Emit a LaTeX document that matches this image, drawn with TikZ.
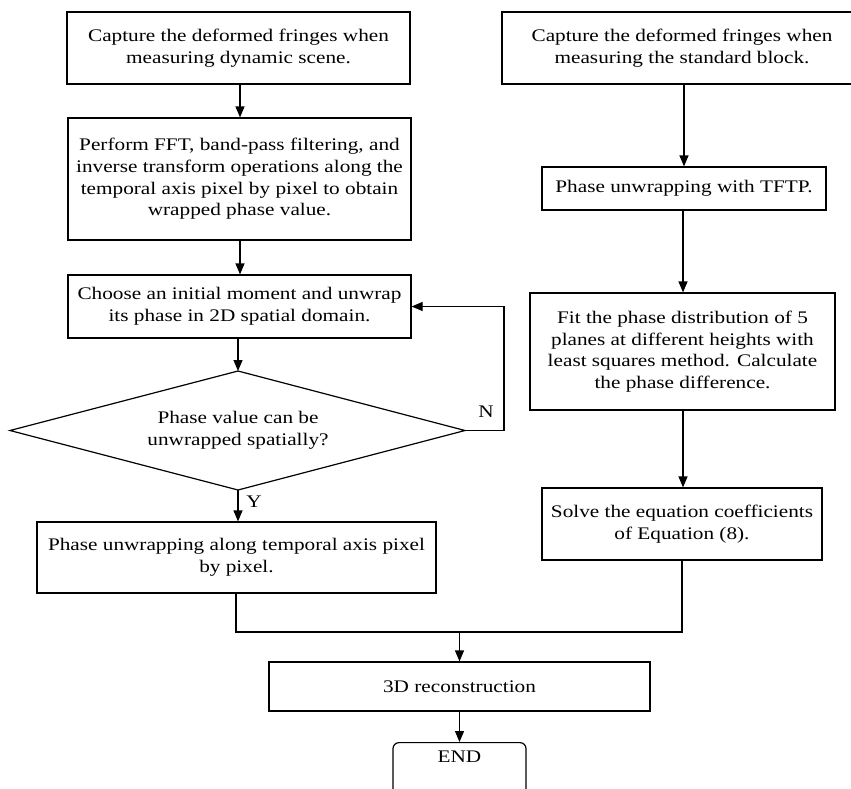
\documentclass[tikz,border=0pt]{standalone}
\usepackage{fontspec}
\setmainfont[FakeStretch=1.2]{Liberation Serif}
\usetikzlibrary{arrows.meta,calc}
\begin{document}
\begin{tikzpicture}[x=1pt,y=-1pt,
  every node/.style={font=\fontsize{17.7}{21.7}\selectfont},
  box/.style={draw,line width=1.2pt,rectangle,align=center,inner sep=0pt},
  endbox/.style={draw,line width=1.2pt,rounded corners=6pt,align=center,inner xsep=0pt,inner ysep=8pt},
  conn/.style={line width=1.2pt,-{Triangle[width=9pt,length=11pt]}},
  plain/.style={line width=1.2pt},
  lbl/.style={inner sep=0pt}]
\useasboundingbox (0,0) rectangle (851,788);
\clip (0,0) rectangle (851,788);
% left column
\node[box,minimum width=343,minimum height=72] (b1) at (238.5,48) {Capture the deformed fringes when\\measuring dynamic scene.};
\node[box,minimum width=343,minimum height=122] (b2) at (239.5,179) {Perform FFT, band-pass filtering, and\\inverse transform operations along the\\temporal axis pixel by pixel to obtain\\wrapped phase value.};
\node[box,minimum width=343,minimum height=63] (b3) at (239.5,306.5) {Choose an initial moment and unwrap\\its phase in 2D spatial domain.};
% decision diamond
\coordinate (dT) at (238,371);
\coordinate (dB) at (238,490);
\coordinate (dL) at (10,430.5);
\coordinate (dR) at (465,430.5);
\draw[plain,line join=miter] (dT) -- (dR) -- (dB) -- (dL) -- cycle;
\node[align=center,inner sep=0pt] (dia) at (238,430.5) {Phase value can be\\unwrapped spatially?};
\node[box,minimum width=399,minimum height=71] (b4) at (236.5,557.5) {Phase unwrapping along temporal axis pixel\\by pixel.};
% right column
\node[box,minimum width=360,minimum height=72] (r1) at (682,48) {Capture the deformed fringes when\\measuring the standard block.};
\node[box,minimum width=284,minimum height=43] (r2) at (684,188.5) {Phase unwrapping with TFTP.};
\node[box,minimum width=305,minimum height=117] (r3) at (682.5,351.5) {Fit the phase distribution of 5\\planes at different heights with\\least squares method. Calculate\\the phase difference.};
\node[box,minimum width=280,minimum height=72] (r4) at (682,524) {Solve the equation coefficients\\of Equation (8).};
% bottom
\node[box,minimum width=381,minimum height=49] (rec) at (459.5,686.5) {3D reconstruction};
\node[endbox,minimum width=133,anchor=north,text depth=38pt] (end) at (459.5,742) {END};
% coordinates
\coordinate (loopR) at (504,430.5);
\coordinate (mergeL) at (236,632);
\coordinate (mergeR) at (682,632);
\coordinate (mergeM) at (459.5,632);
% connectors
\draw[conn] (b1.south -| 240,0) -- (b2.north -| 240,0);
\draw[conn] (b2.south -| 240,0) -- (b3.north -| 240,0);
\draw[conn] (b3.south -| dT) -- (dT);
\draw[conn] (dB) -- (b4.north -| dB);
\draw[conn] (dR) -- (loopR) |- (b3.east);
\draw[conn] (r1.south -| 684,0) -- (r2.north -| 684,0);
\draw[conn] (r2.south -| 683,0) -- (r3.north -| 683,0);
\draw[conn] (r3.south -| 683,0) -- (r4.north -| 683,0);
\draw[plain] (b4.south -| mergeL) -- (mergeL) -- (mergeR) -- (r4.south -| mergeR);
\draw[conn] (mergeM) -- (rec.north);
\draw[conn] (rec.south) -- (end.north);
% labels
\node[lbl] (nlab) at (486,412) {N};
\node[lbl] (ylab) at (254,502) {Y};
\end{tikzpicture}
\end{document}
